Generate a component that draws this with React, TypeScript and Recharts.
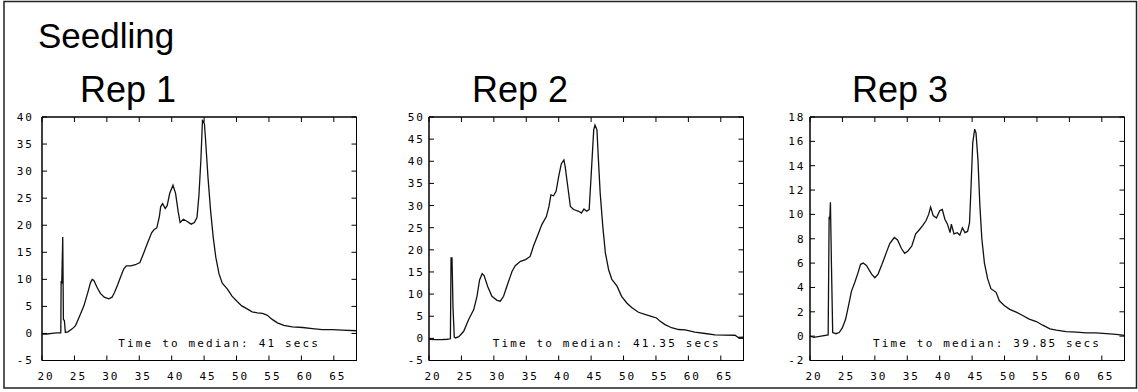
import { Line, LineChart, ReferenceArea, XAxis, YAxis } from "recharts";

// elution time (secs) shared tick marks
const xTicks = [20, 25, 30, 35, 40, 45, 50, 55, 60, 65];
const xDomain: [number, number] = [20, 68.5];

// Rep 1 trace
const rep1Time = [
  20.0, 20.8, 21.5, 22.3, 22.9, 22.95, 23.05, 23.2, 23.3, 23.45, 23.6, 24.0, 24.66, 25.17, 25.84, 26.46,
  27.07, 27.48, 27.74, 28.0, 28.5, 29.0, 29.6, 30.3, 30.8, 31.2, 31.7, 32.1, 32.6, 33.0, 33.7, 34.4, 35.1,
  35.7, 36.2, 36.9, 37.3, 37.7, 38.1, 38.3, 38.6, 39.0, 39.3, 39.7, 40.2, 40.6, 41.0, 41.3, 41.8, 42.4,
  43.0, 43.5, 43.9, 44.2, 44.5, 44.75, 45.05, 45.2, 45.6, 46.0, 46.4, 46.8, 47.3, 47.8, 48.6, 49.3, 50.1,
  50.8, 51.7, 52.4, 53.2, 54.0, 54.7, 55.5, 56.3, 57.3, 58.6, 60.2, 61.7, 63.2, 64.8, 66.3, 68.5,
];
const rep1Signal = [
  -0.1, -0.1, 0.0, 0.1, 0.1, 9.5, 9.4, 17.8, 2.6, 2.4, 0.2, 0.3, 0.85, 1.45, 3.3, 5.1,
  7.6, 9.4, 10.0, 9.8, 8.5, 7.4, 6.7, 6.4, 6.7, 7.6, 9.1, 10.4, 11.9, 12.5, 12.5, 12.7, 13.1,
  14.9, 16.5, 18.6, 19.2, 19.5, 21.6, 23.4, 24.0, 23.1, 23.6, 25.9, 27.4, 25.9, 22.5, 20.5, 21.1, 20.7,
  20.2, 20.5, 21.4, 25.5, 32.0, 39.5, 38.7, 36.2, 28.8, 22.7, 17.8, 14.1, 11.0, 9.3, 8.2, 6.9, 5.9,
  5.1, 4.5, 4.0, 3.8, 3.7, 3.4, 2.6, 1.96, 1.5, 1.2, 1.1, 0.9, 0.7, 0.7, 0.6, 0.5,
];

// Rep 2 trace
const rep2Time = [
  20.0, 21.0, 22.0, 22.8, 23.3, 23.4, 23.55, 23.7, 23.9, 24.1, 24.6, 25.35, 26.1, 26.9, 27.4, 27.8,
  28.2, 28.5, 29.05, 29.7, 30.5, 31.0, 31.5, 32.0, 32.8, 33.3, 34.1, 34.9, 35.6, 36.1, 36.9, 37.4, 38.1,
  38.5, 38.8, 39.2, 39.6, 40.0, 40.4, 40.8, 41.0, 41.4, 41.8, 42.3, 43.1, 43.5, 43.9, 44.3, 44.7, 45.0,
  45.4, 45.6, 45.9, 46.1, 46.4, 46.8, 47.2, 47.7, 48.2, 49.0, 49.7, 50.5, 51.3, 52.3, 53.3, 54.4, 55.1,
  55.6, 56.4, 57.4, 58.5, 59.5, 61.0, 62.6, 64.1, 65.6, 67.2, 67.7, 68.5,
];
const rep2Signal = [
  -0.2, -0.3, -0.3, -0.2, -0.1, 18.2, 18.2, 7.0, 0.3, 0.1, 0.4, 1.6, 4.2, 6.5, 9.5, 13.2,
  14.6, 14.2, 11.7, 9.5, 8.6, 8.4, 9.5, 11.7, 15.1, 16.4, 17.4, 17.8, 18.5, 20.8, 23.8, 25.7, 27.5,
  29.8, 32.4, 32.2, 33.2, 36.6, 39.4, 40.3, 38.8, 34.3, 29.8, 29.1, 28.7, 28.3, 29.2, 28.7, 29.1, 36.6,
  47.1, 48.2, 47.1, 41.1, 32.8, 25.3, 19.3, 15.5, 13.3, 11.8, 9.5, 8.0, 6.9, 5.9, 5.4, 4.9, 4.6,
  3.9, 3.1, 2.4, 2.0, 1.9, 1.4, 1.1, 0.8, 0.75, 0.7, 0.2, 0.3,
];

// Rep 3 trace
const rep3Time = [
  20.0, 20.6, 21.7, 22.8, 22.95, 23.05, 23.15, 23.3, 23.5, 24.0, 24.5, 25.0, 25.5, 25.9, 26.4, 26.9,
  27.4, 27.8, 28.2, 28.7, 29.5, 30.0, 30.5, 31.1, 31.8, 32.3, 33.0, 33.5, 34.1, 34.6, 35.1, 35.7, 36.3,
  36.8, 37.4, 37.9, 38.3, 38.6, 39.0, 39.5, 40.0, 40.4, 40.8, 41.2, 41.6, 41.8, 42.2, 42.7, 43.1, 43.5,
  43.9, 44.3, 44.6, 44.8, 45.1, 45.4, 45.6, 45.9, 46.2, 46.5, 46.9, 47.4, 47.9, 48.7, 49.2, 50.0, 50.8,
  51.8, 52.8, 53.8, 54.9, 55.9, 57.0, 58.0, 59.5, 61.1, 62.6, 64.1, 65.7, 67.2, 68.5,
];
const rep3Signal = [
  0.0, -0.1, 0.0, 0.1, 9.8, 9.6, 11.0, 6.1, 0.3, 0.2, 0.3, 0.7, 1.4, 2.4, 3.7, 4.4,
  5.2, 5.9, 6.0, 5.8, 5.1, 4.8, 5.1, 5.9, 6.9, 7.6, 8.1, 7.9, 7.2, 6.8, 7.0, 7.4, 8.4,
  8.7, 9.1, 9.5, 10.0, 10.6, 9.9, 9.7, 10.3, 10.4, 9.6, 9.2, 8.5, 9.2, 8.4, 8.5, 8.3, 8.9,
  8.5, 8.6, 9.3, 11.8, 15.9, 17.0, 16.7, 14.5, 10.7, 8.0, 6.0, 4.7, 3.9, 3.6, 2.9, 2.5, 2.2,
  1.97, 1.7, 1.4, 1.2, 0.9, 0.6, 0.5, 0.38, 0.33, 0.27, 0.27, 0.2, 0.15, 0.07,
];

const rep1YTicks = [-5, 0, 5, 10, 15, 20, 25, 30, 35, 40];
const rep2YTicks = [-5, 0, 5, 10, 15, 20, 25, 30, 35, 40, 45, 50];
const rep3YTicks = [-2, 0, 2, 4, 6, 8, 10, 12, 14, 16, 18];

const repTitles = ["Rep 1", "Rep 2", "Rep 3"];
const medianLabels = [
  "Time to median: 41 secs",
  "Time to median: 41.35 secs",
  "Time to median: 39.85 secs",
];

const PLOT_TOP = 117;
const PLOT_W = 314.5;
const PLOT_H = 243.5;
const TICK = 5;
const MONO = "'DejaVu Sans Mono', 'Liberation Mono', monospace";
const SANS = "'Liberation Sans', Arial, sans-serif";
const AXIS_LINE = { stroke: "#000", strokeWidth: 1 };

// inward tick marks are drawn with the labels, at the coordinate recharts hands over
const BottomTick = (props: any) => (
  <g>
    <line x1={props.x} y1={props.y} x2={props.x} y2={props.y - TICK} stroke="#000" />
    <text
      x={props.x}
      y={props.y + 12}
      dx={4}
      dy="0.72em"
      textAnchor="middle"
      fontSize={11}
      fontFamily={MONO}
      letterSpacing={2}
      fill="#000"
    >
      {props.payload.value}
    </text>
  </g>
);

const TopTick = (props: any) => (
  <line x1={props.x} y1={props.y} x2={props.x} y2={props.y + TICK} stroke="#000" />
);

const RightTick = (props: any) => (
  <line x1={props.x} y1={props.y} x2={props.x - TICK} y2={props.y} stroke="#000" />
);

const makeLeftTick = (gap: number) => (props: any) => (
  <g>
    <line x1={props.x} y1={props.y} x2={props.x + TICK} y2={props.y} stroke="#000" />
    <text
      x={props.x - gap}
      y={props.y}
      dy="0.36em"
      textAnchor="end"
      fontSize={11}
      fontFamily={MONO}
      letterSpacing={2}
      fill="#000"
    >
      {props.payload.value}
    </text>
  </g>
);

function Panel({
  left,
  time,
  signal,
  yTicks,
  yGap,
}: {
  left: number;
  time: number[];
  signal: number[];
  yTicks: number[];
  yGap: number;
}) {
  const data = time.map((t, i) => ({ t, v: signal[i] }));
  const yDomain: [number, number] = [yTicks[0], yTicks[yTicks.length - 1]];
  const LeftTick = makeLeftTick(yGap);
  return (
    <div style={{ position: "absolute", left: left - 40, top: PLOT_TOP - 10 }}>
      <LineChart
        width={PLOT_W + 50}
        height={PLOT_H + 40}
        data={data}
        margin={{ top: 9, right: 9, bottom: 0, left: 0 }}
      >
        <XAxis
          xAxisId="b"
          dataKey="t"
          type="number"
          domain={xDomain}
          ticks={xTicks}
          interval={0}
          allowDataOverflow
          height={30}
          tickSize={0}
          tickMargin={0}
          tickLine={false}
          axisLine={AXIS_LINE}
          tick={<BottomTick />}
        />
        <XAxis
          xAxisId="t"
          dataKey="t"
          orientation="top"
          type="number"
          domain={xDomain}
          ticks={xTicks}
          interval={0}
          allowDataOverflow
          height={1}
          tickSize={0}
          tickMargin={0}
          tickLine={false}
          axisLine={AXIS_LINE}
          tick={<TopTick />}
        />
        <YAxis
          yAxisId="l"
          type="number"
          domain={yDomain}
          ticks={yTicks}
          interval={0}
          allowDataOverflow
          width={40}
          tickSize={0}
          tickMargin={0}
          tickLine={false}
          axisLine={AXIS_LINE}
          tick={<LeftTick />}
        />
        <YAxis
          yAxisId="r"
          orientation="right"
          type="number"
          domain={yDomain}
          ticks={yTicks}
          interval={0}
          allowDataOverflow
          width={1}
          tickSize={0}
          tickMargin={0}
          tickLine={false}
          axisLine={AXIS_LINE}
          tick={<RightTick />}
        />
        <ReferenceArea
          xAxisId="b"
          yAxisId="l"
          x1={xDomain[0]}
          x2={xDomain[1]}
          y1={yDomain[0]}
          y2={yDomain[1]}
          fill="none"
          fillOpacity={0}
          stroke="#000"
          strokeWidth={1}
          ifOverflow="visible"
        />
        <Line
          xAxisId="b"
          yAxisId="l"
          type="linear"
          dataKey="v"
          stroke="#111"
          strokeWidth={1.3}
          dot={false}
          isAnimationActive={false}
        />
      </LineChart>
    </div>
  );
}

export default function App() {
  return (
    <div
      style={{
        position: "absolute",
        left: 0,
        top: 0,
        width: 1138,
        height: 392,
        background: "#fff",
      }}
    >
      <svg width={1138} height={392} style={{ position: "absolute", left: 0, top: 0 }}>
        <rect x={4} y={1.5} width={1132.5} height={386.5} fill="none" stroke="#222" strokeWidth={1.5} />
        <text x={38} y={48} fontSize={35} fontFamily={SANS} fill="#000">
          Seedling
        </text>
        <text x={80} y={102} fontSize={36} fontFamily={SANS} fill="#000">
          {repTitles[0]}
        </text>
        <text x={472} y={102} fontSize={36} fontFamily={SANS} fill="#000">
          {repTitles[1]}
        </text>
        <text x={852} y={102} fontSize={36} fontFamily={SANS} fill="#000">
          {repTitles[2]}
        </text>
      </svg>
      <Panel left={41.5} time={rep1Time} signal={rep1Signal} yTicks={rep1YTicks} yGap={8} />
      <Panel left={429} time={rep2Time} signal={rep2Signal} yTicks={rep2YTicks} yGap={4} />
      <Panel left={809.5} time={rep3Time} signal={rep3Signal} yTicks={rep3YTicks} yGap={4.5} />
      <svg
        width={1138}
        height={392}
        style={{ position: "absolute", left: 0, top: 0, pointerEvents: "none" }}
      >
        {[118.3, 492.7, 873].map((x, i) => (
          <text key={i} x={x} y={346.5} fontSize={11} fontFamily={MONO} letterSpacing={2.15} fill="#000">
            {medianLabels[i]}
          </text>
        ))}
      </svg>
    </div>
  );
}
